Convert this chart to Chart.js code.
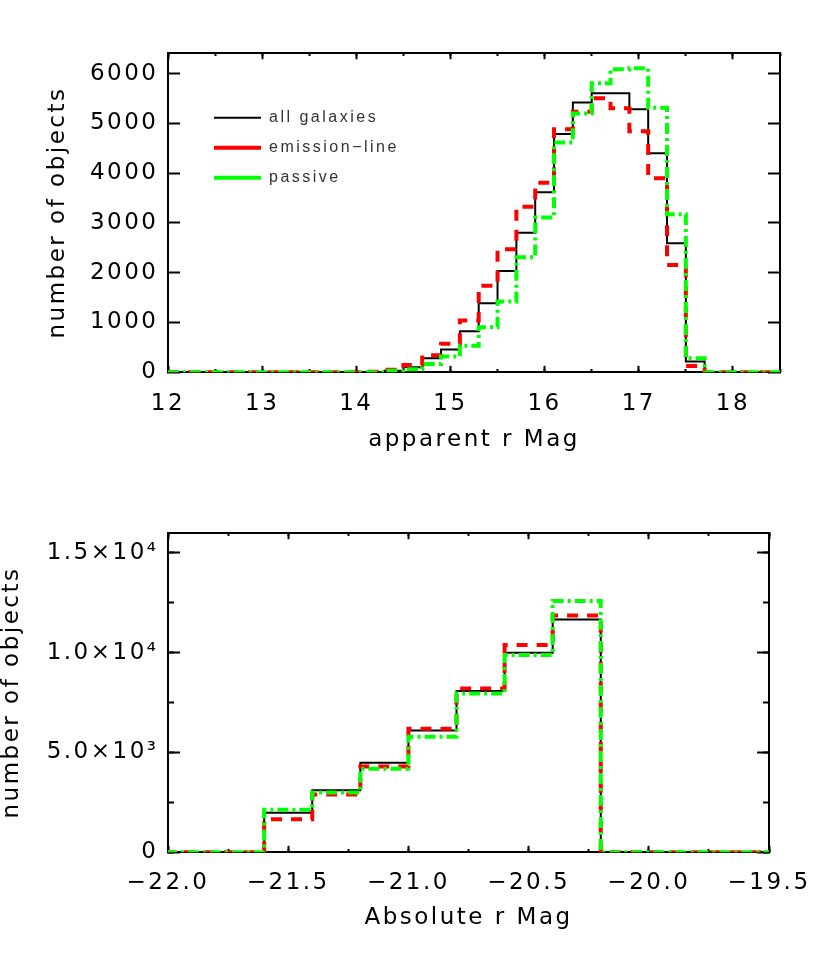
<!DOCTYPE html>
<html>
<head>
<meta charset="utf-8">
<script src="https://cdn.jsdelivr.net/npm/chart.js@4.4.1/dist/chart.umd.min.js"></script>
<style>
  html, body { margin: 0; padding: 0; background: #fff; }
  canvas { display: block; }
</style>
</head>
<body>
<canvas id="appChart" width="830" height="479"></canvas>
<canvas id="absChart" width="830" height="479"></canvas>
<script>
// --- apparent r magnitude histogram (0.2 mag bins, bin centres) ---
const appBins = [12.0, 12.2, 12.4, 12.6, 12.8, 13.0, 13.2, 13.4, 13.6, 13.8, 14.0,
                 14.2, 14.4, 14.6, 14.8, 15.0, 15.2, 15.4, 15.6, 15.8, 16.0, 16.2,
                 16.4, 16.6, 16.8, 17.0, 17.2, 17.4, 17.6, 17.8, 18.0, 18.2, 18.4, 18.6];
const appAll      = [0, 0, 0, 0, 0, 0, 0, 0, 0, 0, 0,
                     5, 30, 100, 280, 460, 825, 1385, 2035, 2805, 3615, 4785,
                     5420, 5605, 5605, 5285, 4400, 2590, 215, 0, 0, 0, 0, 0];
const appEmission = [0, 0, 0, 0, 0, 0, 0, 0, 0, 0, 0,
                     10, 50, 145, 340, 575, 1040, 1740, 2470, 3325, 3810, 4880,
                     5235, 5505, 5305, 4840, 3900, 2155, 125, 0, 0, 0, 0, 0];
const appPassive  = [0, 0, 0, 0, 0, 0, 0, 0, 0, 0, 0,
                     0, 30, 60, 165, 315, 535, 905, 1420, 2310, 3110, 4615,
                     5200, 5805, 6090, 6110, 5315, 3175, 280, 0, 0, 0, 0, 0];
const appXTicks = [12, 13, 14, 15, 16, 17, 18];
const appXLabels = ['12', '13', '14', '15', '16', '17', '18'];
const appXMinor = [12, 12.5, 13, 13.5, 14, 14.5, 15, 15.5, 16, 16.5, 17, 17.5, 18, 18.5];
const appYTicks = [0, 1000, 2000, 3000, 4000, 5000, 6000];
const appYLabels = ['0', '1000', '2000', '3000', '4000', '5000', '6000'];

// --- absolute r magnitude histogram ---
const absBins = [-22.1, -21.9, -21.7, -21.5, -21.3, -21.1, -20.9, -20.7,
                 -20.5, -20.3, -20.1, -19.9, -19.7, -19.5, -19.3];
const absAll      = [0, 0, 0, 1980, 3110, 4480, 6100, 8080, 9990, 11660, 0, 0, 0, 0, 0];
const absEmission = [0, 0, 0, 1650, 2890, 4290, 6180, 8200, 10380, 11860, 0, 0, 0, 0, 0];
const absPassive  = [0, 0, 0, 2130, 3000, 4180, 5780, 7950, 9880, 12580, 0, 0, 0, 0, 0];
const absXTicks = [-22.0, -21.5, -21.0, -20.5, -20.0, -19.5];
const absXLabels = ['\u221222.0', '\u221221.5', '\u221221.0', '\u221220.5', '\u221220.0', '\u221219.5'];
const absXMinor = [-22.0, -21.75, -21.5, -21.25, -21.0, -20.75, -20.5, -20.25, -20.0, -19.75, -19.5];
const absYTicks = [0, 5000, 10000, 15000];
const absYLabels = ['0', '5.0\u00d710\u00b3', '1.0\u00d710\u2074', '1.5\u00d710\u2074'];
const absYMinor = [0, 2500, 5000, 7500, 10000, 12500, 15000];

const seriesNames = ['all galaxies', 'emission\u2212line', 'passive'];

const AXIS_FONT = { family: 'DejaVu Sans', size: 23, lineHeight: 1 };

function toPoints(xs, ys) {
    return xs.map((x, i) => ({ x: x, y: ys[i] }));
}

function labelFor(values, labels) {
    return v => {
        const i = values.findIndex(t => Math.abs(t - v) < 1e-6);
        return i < 0 ? '' : labels[i];
    };
}

// put the ticks exactly where the original plot has them
function useTicks(values) {
    return scale => { scale.ticks = values.map(v => ({ value: v })); };
}

// unlabeled axis used for the frame edges and the minor tick marks
function edgeAxis(axis, position, min, max, values, tickLen, weight, withBorder) {
    return {
        type: 'linear', axis: axis, position: position, min: min, max: max, weight: weight,
        afterBuildTicks: useTicks(values),
        afterFit: s => { if (axis === 'x') s.height = 0; else s.width = 0; },
        ticks: { display: false },
        grid: { drawOnChartArea: false, tickLength: -tickLen, tickWidth: 2, tickColor: '#000' },
        border: { display: withBorder, color: '#000', width: 2 }
    };
}

function datasets(xs, all, emission, passive) {
    return [
        { label: seriesNames[0], data: toPoints(xs, all), borderColor: '#000000', borderWidth: 2,
          stepped: 'middle', pointRadius: 0, pointStyle: 'line', order: 2, xAxisID: 'x', yAxisID: 'y' },
        { label: seriesNames[1], data: toPoints(xs, emission), borderColor: '#ff0000', borderWidth: 4,
          borderDash: [11, 9], stepped: 'middle', pointRadius: 0, pointStyle: 'line', order: 1, xAxisID: 'x', yAxisID: 'y' },
        { label: seriesNames[2], data: toPoints(xs, passive), borderColor: '#00ff00', borderWidth: 4,
          borderDash: [11, 4, 3, 4], stepped: 'middle', pointRadius: 0, pointStyle: 'line', order: 0, xAxisID: 'x', yAxisID: 'y' }
    ];
}

// wider glyph spacing, like the original plot fonts
const letterSpacing = {
    id: 'letterSpacing',
    beforeDraw(chart) { chart.ctx.letterSpacing = '2.5px'; }
};

// move the legend to its spot inside the plot box
const legendPlacer = {
    id: 'legendPlacer',
    afterLayout(chart, args, opts) {
        const lg = chart.legend;
        if (!lg || opts.left === undefined) return;
        lg.left = opts.left;
        lg.top = opts.top;
        lg.right = opts.left + 320;
        lg.bottom = opts.top + 130;
        lg.width = 320;
        lg.height = 130;
    }
};

// --- top panel: apparent magnitude ---
new Chart(document.getElementById('appChart'), {
    type: 'line',
    data: { datasets: datasets(appBins, appAll, appEmission, appPassive) },
    options: {
        responsive: false,
        animation: false,
        events: [],
        layout: { padding: { top: 52.7, right: 50, bottom: 0, left: 0 } },
        scales: {
            x: {
                type: 'linear', position: 'bottom', min: 12, max: 18.5, weight: 1,
                afterBuildTicks: useTicks(appXTicks),
                afterFit: s => { s.height = 106.7; },
                ticks: { font: AXIS_FONT, color: '#000', padding: 26.7,
                         maxRotation: 0, autoSkip: false, callback: labelFor(appXTicks, appXLabels) },
                grid: { drawOnChartArea: false, tickLength: -6.5, tickWidth: 2, tickColor: '#000' },
                border: { color: '#000', width: 2 },
                title: { display: true, text: 'apparent r Mag', font: AXIS_FONT, color: '#000', padding: { bottom: 27.5 } }
            },
            xMinor: edgeAxis('x', 'bottom', 12, 18.5, appXMinor, 3.3, 0, false),
            xTop: edgeAxis('x', 'top', 12, 18.5, appXTicks, 6.5, 1, true),
            xTopMinor: edgeAxis('x', 'top', 12, 18.5, appXMinor, 3.3, 0, false),
            y: {
                type: 'linear', position: 'left', min: 0, max: 6420, weight: 1,
                afterBuildTicks: useTicks(appYTicks),
                afterFit: s => { s.width = 168; },
                ticks: { font: AXIS_FONT, color: '#000', padding: 21.5, autoSkip: false,
                         callback: labelFor(appYTicks, appYLabels) },
                grid: { drawOnChartArea: false, tickLength: -12, tickWidth: 2, tickColor: '#000' },
                border: { color: '#000', width: 2 },
                title: { display: true, text: 'number of objects', font: AXIS_FONT, color: '#000', padding: { top: 46.5 } }
            },
            yRight: edgeAxis('y', 'right', 0, 6420, appYTicks, 12, 1, true)
        },
        plugins: {
            legendPlacer: { left: 200, top: 95.7 },
            tooltip: { enabled: false },
            legend: {
                display: true,
                position: 'chartArea',
                align: 'start',
                labels: {
                    usePointStyle: true,
                    pointStyleWidth: 47,
                    padding: 14,
                    color: '#333',
                    font: { family: 'Liberation Sans', size: 16 },
                    sort: (a, b) => a.datasetIndex - b.datasetIndex
                }
            }
        }
    },
    plugins: [letterSpacing, legendPlacer]
});

// --- bottom panel: absolute magnitude ---
new Chart(document.getElementById('absChart'), {
    type: 'line',
    data: { datasets: datasets(absBins, absAll, absEmission, absPassive) },
    options: {
        responsive: false,
        animation: false,
        events: [],
        layout: { padding: { top: 53.7, right: 50, bottom: 0, left: 0 } },
        scales: {
            x: {
                type: 'linear', position: 'bottom', min: -22, max: -19.5, weight: 1,
                afterBuildTicks: useTicks(absXTicks),
                afterFit: s => { s.height = 105.7; },
                ticks: { font: AXIS_FONT, color: '#000', padding: 25.7,
                         maxRotation: 0, autoSkip: false, callback: labelFor(absXTicks, absXLabels) },
                grid: { drawOnChartArea: false, tickLength: -6.5, tickWidth: 2, tickColor: '#000' },
                border: { color: '#000', width: 2 },
                title: { display: true, text: 'Absolute r Mag', font: AXIS_FONT, color: '#000', padding: { bottom: 28.5 } }
            },
            xMinor: edgeAxis('x', 'bottom', -22, -19.5, absXMinor, 3.3, 0, false),
            xTop: edgeAxis('x', 'top', -22, -19.5, absXTicks, 6.5, 1, true),
            xTopMinor: edgeAxis('x', 'top', -22, -19.5, absXMinor, 3.3, 0, false),
            y: {
                type: 'linear', position: 'left', min: 0, max: 16000, weight: 1,
                afterBuildTicks: useTicks(absYTicks),
                afterFit: s => { s.width = 168; },
                ticks: { font: AXIS_FONT, color: '#000', padding: 21.5, autoSkip: false,
                         callback: labelFor(absYTicks, absYLabels) },
                grid: { drawOnChartArea: false, tickLength: -12, tickWidth: 2, tickColor: '#000' },
                border: { color: '#000', width: 2 },
                title: { display: true, text: 'number of objects', font: AXIS_FONT, color: '#000', padding: { top: 0.5 } }
            },
            yMinor: edgeAxis('y', 'left', 0, 16000, absYMinor, 6, 0, false),
            yRight: edgeAxis('y', 'right', 0, 16000, absYTicks, 12, 1, true),
            yRightMinor: edgeAxis('y', 'right', 0, 16000, absYMinor, 6, 0, false)
        },
        plugins: {
            tooltip: { enabled: false },
            legend: { display: false }
        }
    },
    plugins: [letterSpacing]
});
</script>
</body>
</html>
